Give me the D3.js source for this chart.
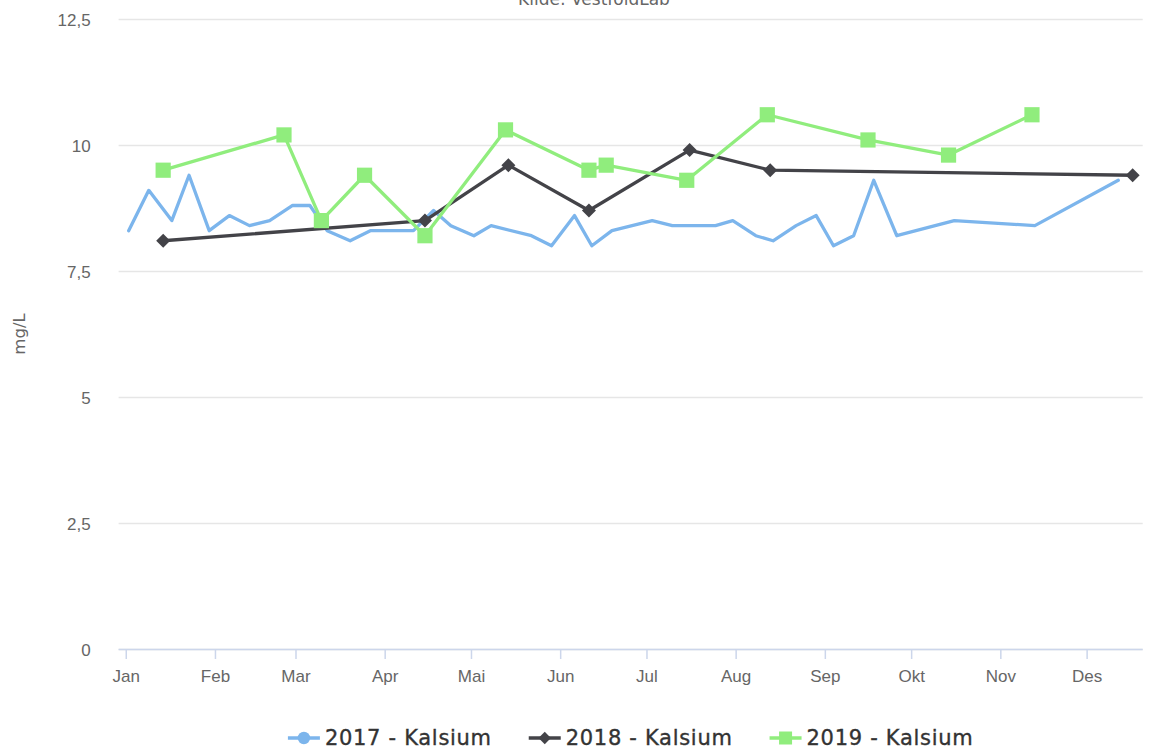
<!DOCTYPE html>
<html>
<head>
<meta charset="utf-8">
<script src="https://cdn.jsdelivr.net/npm/d3@7"></script>
<style>
  html, body { margin: 0; padding: 0; background: #fff; }
  svg { display: block; font-family: "DejaVu Sans", Verdana, sans-serif; }
</style>
</head>
<body>
<svg id="chart" width="1151" height="751"></svg>
<script>
// ---- Data (dates mapped onto a common year, values in mg/L) ----
const monthLabels = ["Jan", "Feb", "Mar", "Apr", "Mai", "Jun", "Jul", "Aug", "Sep", "Okt", "Nov", "Des"];
const yTicks = [0, 2.5, 5, 7.5, 10, 12.5];

const dates2017 = ["01-02","01-09","01-17","01-23","01-30","02-06","02-13","02-20","02-28","03-06",
  "03-12","03-20","03-27","04-11","04-18","04-24","05-02","05-08","05-22","05-29",
  "06-06","06-12","06-19","07-03","07-10","07-25","07-31","08-08","08-14","08-22",
  "08-29","09-04","09-11","09-18","09-26","10-16","11-13","12-12"];
const values2017 = [8.3, 9.1, 8.5, 9.4, 8.3, 8.6, 8.4, 8.5, 8.8, 8.8,
  8.3, 8.1, 8.3, 8.3, 8.7, 8.4, 8.2, 8.4, 8.2, 8.0,
  8.6, 8.0, 8.3, 8.5, 8.4, 8.4, 8.5, 8.2, 8.1, 8.4,
  8.6, 8.0, 8.2, 9.3, 8.2, 8.5, 8.4, 9.3];

const dates2018 = ["01-14","04-15","05-14","06-11","07-16","08-13","12-17"];
const values2018 = [8.1, 8.5, 9.6, 8.7, 9.9, 9.5, 9.4];

const dates2019 = ["01-14","02-25","03-10","03-25","04-15","05-13","06-11","06-17","07-15","08-12","09-16","10-14","11-12"];
const values2019 = [9.5, 10.2, 8.5, 9.4, 8.2, 10.3, 9.5, 9.6, 9.3, 10.6, 10.1, 9.8, 10.6];

const seriesNames = ["2017 - Kalsium", "2018 - Kalsium", "2019 - Kalsium"];
const subtitleText = "Kilde: VestfoldLab";
const yTitle = "mg/L";

// ---- Build ----
const baseYear = 2017;
const toDate = s => { const [m, d] = s.split("-").map(Number); return new Date(Date.UTC(baseYear, m - 1, d)); };
const series = [
  { name: seriesNames[0], color: "#7cb5ec", marker: "circle", showMarkers: false,
    data: dates2017.map((d, i) => ({ date: toDate(d), value: values2017[i] })) },
  { name: seriesNames[1], color: "#434348", marker: "diamond", showMarkers: true,
    data: dates2018.map((d, i) => ({ date: toDate(d), value: values2018[i] })) },
  { name: seriesNames[2], color: "#90ed7d", marker: "square", showMarkers: true,
    data: dates2019.map((d, i) => ({ date: toDate(d), value: values2019[i] })) }
];

const svg = d3.select("#chart");
const plot = { left: 118.6, right: 1142.7, top: 19, bottom: 649 };

// x extent from data with 1% padding each side
const allDates = series.flatMap(s => s.data.map(p => +p.date));
const minD = d3.min(allDates), maxD = d3.max(allDates);
const pad = (maxD - minD) * 0.01;
const x = d3.scaleUtc().domain([new Date(minD - pad), new Date(maxD + pad)]).range([plot.left, plot.right]);
const y = d3.scaleLinear().domain([0, 12.5]).range([plot.bottom, plot.top]);

// gridlines
const yAxis = d3.axisLeft(y).tickValues(yTicks)
  .tickSize(-(plot.right - plot.left))
  .tickFormat(d => d3.format(".1~f")(d).replace(".", ","));
const gy = svg.append("g").attr("transform", `translate(${plot.left},0)`).call(yAxis);
gy.select(".domain").remove();
gy.selectAll(".tick line").attr("stroke", "#e6e6e6").attr("stroke-width", 1.5);
gy.selectAll(".tick text").attr("x", -28).attr("fill", "#666666")
  .style("font-size", "17px").attr("dy", "0.36em");

// x axis
const monthStarts = monthLabels.map((m, i) => new Date(Date.UTC(baseYear, i, 1)));
const xAxis = d3.axisBottom(x).tickValues(monthStarts).tickSize(10)
  .tickFormat((d, i) => monthLabels[i]).tickSizeOuter(0);
const gx = svg.append("g").attr("transform", `translate(0,${plot.bottom})`).call(xAxis);
gx.select(".domain").attr("stroke", "#ccd6eb").attr("stroke-width", 1.5)
  .attr("d", `M${plot.left},0.5H${plot.right}`);
gx.selectAll(".tick line").attr("stroke", "#ccd6eb").attr("stroke-width", 1.5);
gx.selectAll(".tick text").attr("fill", "#666666").style("font-size", "17px").attr("y", 21).attr("dy", "0.71em");

// markers
const symbolPath = (type, r) => {
  if (type === "diamond") return `M0,${-r}L${r},0L0,${r}L${-r},0Z`;
  if (type === "square") return `M${-r},${-r}H${r}V${r}H${-r}Z`;
  return d3.symbol().type(d3.symbolCircle).size(Math.PI * r * r)();
};
const markerR = { circle: 6.2, diamond: 7, square: 7.6 };

const line = d3.line().x(d => x(d.date)).y(d => y(d.value));
series.forEach(s => {
  const g = svg.append("g");
  g.append("path").datum(s.data).attr("d", line).attr("fill", "none")
    .attr("stroke", s.color).attr("stroke-width", 3.3).attr("stroke-linejoin", "round").attr("stroke-linecap", "round");
  if (s.showMarkers) {
    g.selectAll("path.m").data(s.data).join("path").attr("class", "m")
      .attr("transform", d => `translate(${x(d.date)},${y(d.value)})`)
      .attr("d", symbolPath(s.marker, markerR[s.marker]))
      .attr("fill", s.color);
  }
});

// subtitle (cut at the top edge, as in the source)
svg.append("text").attr("x", 594).attr("y", 5).attr("text-anchor", "middle")
  .attr("fill", "#666666").style("font-size", "17px").text(subtitleText);

// y title
svg.append("text").attr("transform", `translate(25,${(plot.top + plot.bottom) / 2}) rotate(-90)`)
  .attr("text-anchor", "middle").attr("fill", "#666666").style("font-size", "16.5px").text(yTitle);

// legend
const legend = svg.append("g");
const items = [];
series.forEach((s, i) => {
  const g = legend.append("g");
  g.append("path").attr("d", "M0,0H32").attr("stroke", s.color).attr("stroke-width", 3.3);
  g.append("path").attr("transform", "translate(16,0)")
    .attr("d", symbolPath(s.marker, s.marker === "square" ? 6.5 : 6.2)).attr("fill", s.color);
  const t = g.append("text").attr("x", 37).attr("dy", "0.35em").attr("fill", "#333333")
    .style("font-size", "21px").style("font-weight", "normal").style("letter-spacing", "0.7px")
    .attr("stroke", "#333333").attr("stroke-width", 0.35).text(s.name);
  const w = 37 + t.node().getComputedTextLength();
  items.push({ g, w });
});
const gap = 37;
const totalW = d3.sum(items, d => d.w) + gap * (items.length - 1);
let xs = (plot.left + plot.right) / 2 - totalW / 2;
items.forEach(it => { it.g.attr("transform", `translate(${xs},738)`); xs += it.w + gap; });
</script>
</body>
</html>
